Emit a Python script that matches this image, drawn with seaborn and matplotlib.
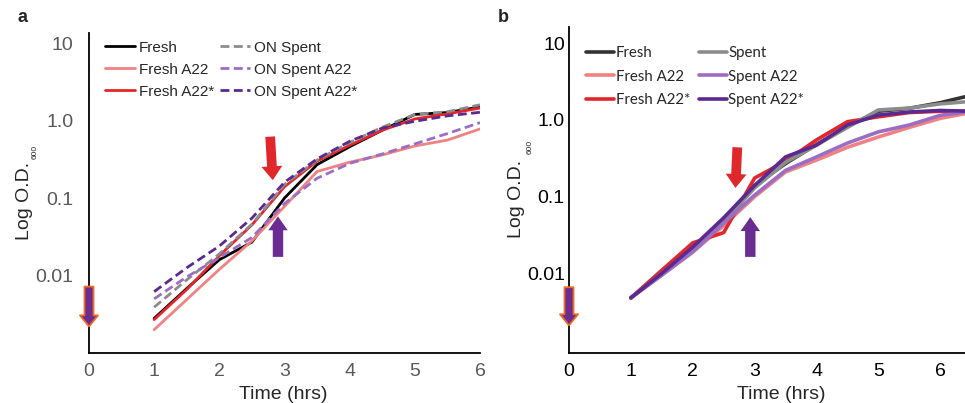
import numpy as np
import pandas as pd
import matplotlib
matplotlib.use("Agg")
import matplotlib.pyplot as plt
import seaborn as sns

# ===== DATA =====

time_a = [1, 1.5, 2, 2.5, 3, 3.5, 4, 4.5, 5, 5.5, 6]
fresh_a = [0.0028, 0.0068, 0.016, 0.027, 0.10, 0.27, 0.46, 0.75, 1.2, 1.27, 1.5]
fresh_a22_a = [0.0020, 0.0049, 0.012, 0.028, 0.078, 0.22, 0.29, 0.36, 0.47, 0.56, 0.78]
fresh_a22s_a = [0.0027, 0.0066, 0.018, 0.045, 0.14, 0.30, 0.48, 0.75, 1.05, 1.22, 1.45]
spent_a = [0.0039, 0.0088, 0.019, 0.046, 0.15, 0.31, 0.52, 0.82, 1.2, 1.3, 1.6]
spent_a22_a = [0.0050, 0.0096, 0.017, 0.031, 0.085, 0.18, 0.28, 0.37, 0.50, 0.68, 0.94]
spent_a22s_a = [0.0062, 0.0126, 0.024, 0.055, 0.16, 0.32, 0.54, 0.80, 0.98, 1.15, 1.28]

time_b = [1, 1.5, 2, 2.5, 3, 3.5, 4, 4.5, 5, 5.5, 6, 6.5]
fresh_b = [0.0048, 0.010, 0.021, 0.048, 0.14, 0.27, 0.48, 0.82, 1.3, 1.42, 1.68, 2.1]
fresh_a22_b = [0.0048, 0.0095, 0.019, 0.042, 0.10, 0.21, 0.30, 0.44, 0.60, 0.80, 1.05, 1.25]
fresh_a22s_b = [0.0048, 0.011, 0.025, 0.034, 0.175, 0.29, 0.55, 0.95, 1.1, 1.25, 1.3, 1.3]
spent_b = [0.0048, 0.010, 0.021, 0.047, 0.13, 0.28, 0.47, 0.80, 1.35, 1.43, 1.62, 1.75]
spent_a22_b = [0.0048, 0.0095, 0.019, 0.045, 0.105, 0.22, 0.33, 0.50, 0.70, 0.86, 1.15, 1.3]
spent_a22s_b = [0.0048, 0.010, 0.022, 0.053, 0.14, 0.33, 0.47, 0.86, 1.16, 1.27, 1.33, 1.3]

labels_a = ["Fresh", "Fresh A22", "Fresh A22*", "ON Spent", "ON Spent A22", "ON Spent A22*"]
labels_b = ["Fresh", "Fresh A22", "Fresh A22*", "Spent", "Spent A22", "Spent A22*"]

ytick_vals = [0.01, 0.1, 1, 10]
ytick_labels = ["0.01", "0.1", "1.0", "10"]
xtick_vals = [0, 1, 2, 3, 4, 5, 6]

# arrows: (x_tail, y_tail, x_tip, y_tip)
arrows_a = {"red": (2.78, 0.62, 2.82, 0.17), "purple": (2.90, 0.0174, 2.90, 0.058),
            "start": (0, 0.0072, 0, 0.0022)}
arrows_b = {"red": (2.72, 0.44, 2.69, 0.13), "purple": (2.93, 0.0164, 2.93, 0.054),
            "start": (0, 0.0066, 0, 0.0021)}

colors = ["#000000", "#F08283", "#E3262B", "#8C8C8C", "#9B6DC3", "#5B2A91"]
colors_b = ["#333333", "#F08283", "#E3262B", "#8C8C8C", "#9B6DC3", "#5B2A91"]

# ===== BUILD TABLES =====
df_a = pd.concat([pd.DataFrame({"time": time_a, "od": v, "cond": lab})
                  for v, lab in zip([fresh_a, fresh_a22_a, fresh_a22s_a,
                                     spent_a, spent_a22_a, spent_a22s_a], labels_a)])
df_b = pd.concat([pd.DataFrame({"time": time_b, "od": v, "cond": lab})
                  for v, lab in zip([fresh_b, fresh_a22_b, fresh_a22s_b,
                                     spent_b, spent_a22_b, spent_a22s_b], labels_b)])

sns.set_style("white")
plt.rcParams['font.family'] = ['Liberation Sans', 'DejaVu Sans']

fig = plt.figure(figsize=(9.65, 4.03), dpi=100)
ax_a = fig.add_axes([89 / 965, 50 / 403, (480 - 89) / 965, (353 - 33) / 403])
ax_b = fig.add_axes([569 / 965, 50 / 403, (965 - 569) / 965, (353 - 27) / 403])

dash_a = {lab: ("" if i < 3 else (3.2, 1.6)) for i, lab in enumerate(labels_a)}
sns.lineplot(data=df_a, x="time", y="od", hue="cond", style="cond", hue_order=labels_a,
             style_order=labels_a, palette=dict(zip(labels_a, colors)), dashes=dash_a,
             linewidth=2.0, ax=ax_a, zorder=3)
sns.lineplot(data=df_b, x="time", y="od", hue="cond", hue_order=labels_b,
             palette=dict(zip(labels_b, colors_b)), linewidth=2.6, ax=ax_b, zorder=3)

ax_a.set_ylim(0.001, 13.5)
ax_a.set_xlim(0, 6.0)
ax_b.set_ylim(0.000916, 16.3)
ax_b.set_xlim(0, 6.4)


def draw_arrows(ax, arr):
    x0, y0, x1, y1 = arr["red"]
    ax.annotate("", xy=(x1, y1), xytext=(x0, y0),
                arrowprops=dict(width=7, headwidth=15, headlength=10, facecolor="#E0282C",
                                edgecolor="none", shrink=0), zorder=5)
    x0, y0, x1, y1 = arr["purple"]
    ax.annotate("", xy=(x1, y1), xytext=(x0, y0),
                arrowprops=dict(width=7.5, headwidth=14, headlength=10, facecolor="#6A2C91",
                                edgecolor="none", shrink=0), zorder=5)
    x0, y0, x1, y1 = arr["start"]
    ax.annotate("", xy=(x1, y1), xytext=(x0, y0), annotation_clip=False,
                arrowprops=dict(width=6.5, headwidth=13, headlength=8, facecolor="#6A2C91",
                                edgecolor="#F06A23", lw=1.3, shrink=0), zorder=6)


draw_arrows(ax_a, arrows_a)
draw_arrows(ax_b, arrows_b)

for ax, tick_col in [(ax_a, "#595959"), (ax_b, "black")]:
    ax.set_yscale("log")
    ax.set_yticks(ytick_vals)
    ax.set_yticklabels(ytick_labels)
    ax.yaxis.set_minor_locator(matplotlib.ticker.NullLocator())
    ax.set_xticks(xtick_vals)
    ax.tick_params(length=0, labelsize=14, labelcolor=tick_col)
    ax.tick_params(axis="x", pad=7)
    for s in ["top", "right"]:
        ax.spines[s].set_visible(False)
    for s in ["left", "bottom"]:
        ax.spines[s].set_color("black")
        ax.spines[s].set_linewidth(1.3)
    ax.set_xlabel("Time (hrs)", fontsize=14, labelpad=0)
    ax.set_ylabel("Log O.D.", fontsize=14)
    ax.grid(False)

ax_a.tick_params(axis="y", pad=11)
ax_b.tick_params(axis="y", pad=3)
ax_a.yaxis.set_label_coords(-0.143, (353 - 201) / 320)
ax_b.yaxis.set_label_coords(-0.111, (353 - 199) / 326)
ax_a.xaxis.set_label_coords((283 - 89) / 391, -0.104)
ax_b.xaxis.set_label_coords((781 - 569) / 396, -0.102)

# tiny "600" subscript after the y labels
fig.text(35.5 / 965, 1 - 152 / 403, "600", rotation=90, fontsize=6,
         ha="center", va="center")
fig.text(530.5 / 965, 1 - 147 / 403, "600", rotation=90, fontsize=6,
         ha="center", va="center")

# legends
h, l = ax_a.get_legend_handles_labels()
ax_a.legend(h, l, ncol=2, loc="upper left", bbox_to_anchor=(0.022, 1.0), frameon=False,
            fontsize=11, handlelength=1.95, handletextpad=0.25, columnspacing=0.4,
            labelspacing=0.52, borderaxespad=0.1)
h, l = ax_b.get_legend_handles_labels()
ax_b.legend(h, l, ncol=2, loc="upper left", bbox_to_anchor=(0.025, 0.965), frameon=False,
            prop={"family": "Lato", "size": 10.8}, handlelength=1.85, handletextpad=0.1,
            columnspacing=0.6, labelspacing=0.65, borderaxespad=0.1)

fig.text(18 / 965, 1 - 18 / 403, "a", fontsize=13, fontweight="bold", ha="left", va="center")
fig.text(498 / 965, 1 - 18 / 403, "b", fontsize=13, fontweight="bold", ha="left", va="center")

fig.savefig("out.png", dpi=100)
